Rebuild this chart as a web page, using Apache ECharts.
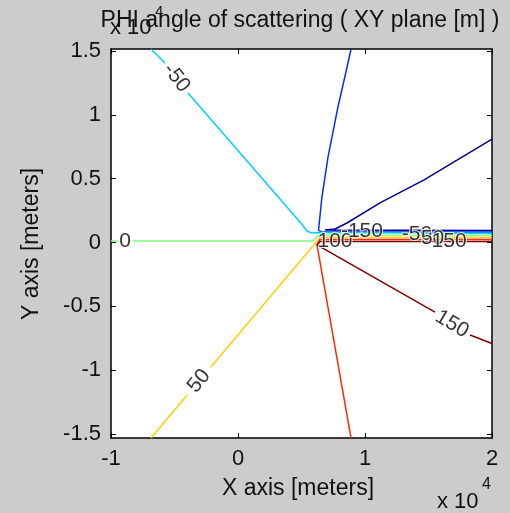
<!DOCTYPE html>
<html>
<head>
<meta charset="utf-8">
<script src="https://cdn.jsdelivr.net/npm/echarts@6/dist/echarts.min.js"></script>
<style>
  html, body { margin: 0; padding: 0; background: #cccccc; }
  #chart { width: 510px; height: 513px; }
</style>
</head>
<body>
<div id="chart"></div>
<script>
// Contour levels of the scattering angle PHI (degrees) and their jet colours
const levels = [-150, -100, -50, 0, 50, 100, 150];
const levelColors = ['#000090', '#0030ff', '#00d0ff', '#80ff80', '#ffd000', '#ff2a00', '#800000'];

// Contour polylines in metres, one list of segments per level (gaps where labels sit)
const contourM150 = [
  [[20000, 8100], [14650, 4900], [11180, 3100], [8580, 1530], [7640, 1060], [6850, 980], [20000, 940]]
];
const contourM100 = [
  [[8900, 15150], [8500, 13350], [7870, 10610], [7090, 6700], [6610, 3570], [6340, 980], [6540, 830], [20000, 830]]
];
const contourM50 = [
  [[-6850, 15150], [-5750, 14050]],
  [[-3940, 11700], [4880, 1610], [5430, 900], [5830, 750], [6300, 780], [20000, 710]]
];
const contour0 = [
  [[-10000, 120], [-9450, 120]],
  [[-8270, 120], [5900, 120], [6300, 550], [20000, 550]]
];
const contourP50 = [
  [[-6850, -15300], [-4000, -11940]],
  [[-2130, -9740], [5830, -350], [6140, -40], [6460, 390], [20000, 390]]
];
const contourP100 = [
  [[8900, -15300], [6220, -190], [6460, 240], [20000, 240]]
];
const contourP150 = [
  [[20000, -7900], [18270, -7240]],
  [[15510, -5440], [6220, -190], [6460, 80], [20000, 80]]
];
const contours = [contourM150, contourM100, contourM50, contour0, contourP50, contourP100, contourP150];

// Contour labels: [x, y, level, rotation in degrees]
const labelX = [-4840, -8900, -3070, 16850, 7640, 9760, 14090, 15320, 16620];
const labelY = [12880, 120, -10840, -6380, 120, 900, 670, 360, 80];
const labelText = ['-50', '0', '50', '150', '100', '-150', '-50', '50', '150'];
const labelRotate = [-52, 0, 50, -31, 0, 0, 0, 0, 0];

// Axis ticks (metres) and the x 10^4 scaling used by the tick labels
const xTicks = [-10000, 0, 10000, 20000];
const yTicks = [-15000, -10000, -5000, 0, 5000, 10000, 15000];
const tickScale = 10000;

const FONT = 'Liberation Sans, Arial, Helvetica, sans-serif';
const INK = '#111111';

const chart = echarts.init(document.getElementById('chart'), null, { renderer: 'canvas' });

const series = [];
contours.forEach((segs, i) => {
  segs.forEach(seg => {
    series.push({
      type: 'line',
      data: seg,
      showSymbol: false,
      symbol: 'none',
      silent: true,
      animation: false,
      lineStyle: { color: levelColors[i], width: 1.5 },
      z: 2
    });
  });
});

series.push({
  type: 'scatter',
  symbolSize: 0,
  silent: true,
  animation: false,
  z: 5,
  data: labelX.map((x, i) => ({
    value: [x, labelY[i]],
    name: labelText[i],
    label: { rotate: labelRotate[i] }
  })),
  label: {
    show: true,
    position: 'inside',
    formatter: p => p.name,
    color: '#000000',
    fontFamily: FONT,
    fontSize: 21,
    textBorderColor: '#ffffff',
    textBorderWidth: 2
  }
});

const tickCommon = { show: true, inside: true, length: 5, lineStyle: { color: '#000', width: 1 } };
const lineCommon = { show: true, onZero: false, lineStyle: { color: '#000', width: 1.5 } };

const option = {
  backgroundColor: '#cccccc',
  animation: false,
  grid: {
    left: 111, right: 18, top: 49, bottom: 75,
    show: true, backgroundColor: '#ffffff', borderWidth: 0
  },
  xAxis: [
    {
      type: 'value', position: 'bottom', min: -10000, max: 20000, interval: 10000,
      axisLine: lineCommon, axisTick: tickCommon, splitLine: { show: false },
      axisLabel: {
        color: INK, fontFamily: FONT, fontSize: 22, margin: 10,
        formatter: v => String(v / tickScale)
      }
    },
    {
      type: 'value', position: 'top', min: -10000, max: 20000, interval: 10000,
      axisLine: lineCommon, axisTick: tickCommon, splitLine: { show: false },
      axisLabel: { show: false }
    }
  ],
  yAxis: [
    {
      type: 'value', position: 'left', min: -15300, max: 15150,
      axisLine: lineCommon,
      axisTick: Object.assign({}, tickCommon, { customValues: yTicks }),
      splitLine: { show: false },
      axisLabel: {
        color: INK, fontFamily: FONT, fontSize: 22, margin: 10,
        customValues: yTicks,
        formatter: v => String(v / tickScale)
      }
    },
    {
      type: 'value', position: 'right', min: -15300, max: 15150,
      axisLine: lineCommon,
      axisTick: Object.assign({}, tickCommon, { customValues: yTicks }),
      splitLine: { show: false },
      axisLabel: { show: false, customValues: yTicks }
    }
  ],
  graphic: [
    { type: 'text', z: 10, silent: true, x: 300, y: 21,
      style: { text: 'PHI angle of scattering ( XY plane [m] )', fill: INK, font: '23px ' + FONT, textAlign: 'center', textVerticalAlign: 'middle' } },
    { type: 'text', z: 11, silent: true, x: 110, y: 28,
      style: { text: 'x 10', fill: INK, font: '22px ' + FONT, textAlign: 'left', textVerticalAlign: 'middle' } },
    { type: 'text', z: 11, silent: true, x: 155, y: 12,
      style: { text: '4', fill: INK, font: '15px ' + FONT, textAlign: 'left', textVerticalAlign: 'middle' } },
    { type: 'text', z: 10, silent: true, x: 298, y: 489,
      style: { text: 'X axis [meters]', fill: INK, font: '23px ' + FONT, textAlign: 'center', textVerticalAlign: 'middle' } },
    { type: 'text', z: 10, silent: true, x: 32, y: 244, rotation: Math.PI / 2,
      style: { text: 'Y axis [meters]', fill: INK, font: '23px ' + FONT, textAlign: 'center', textVerticalAlign: 'middle' } },
    { type: 'text', z: 10, silent: true, x: 437, y: 502,
      style: { text: 'x 10', fill: INK, font: '22px ' + FONT, textAlign: 'left', textVerticalAlign: 'middle' } },
    { type: 'text', z: 10, silent: true, x: 482, y: 485,
      style: { text: '4', fill: INK, font: '16px ' + FONT, textAlign: 'left', textVerticalAlign: 'middle' } }
  ],
  series: series
};

chart.setOption(option);
</script>
</body>
</html>
